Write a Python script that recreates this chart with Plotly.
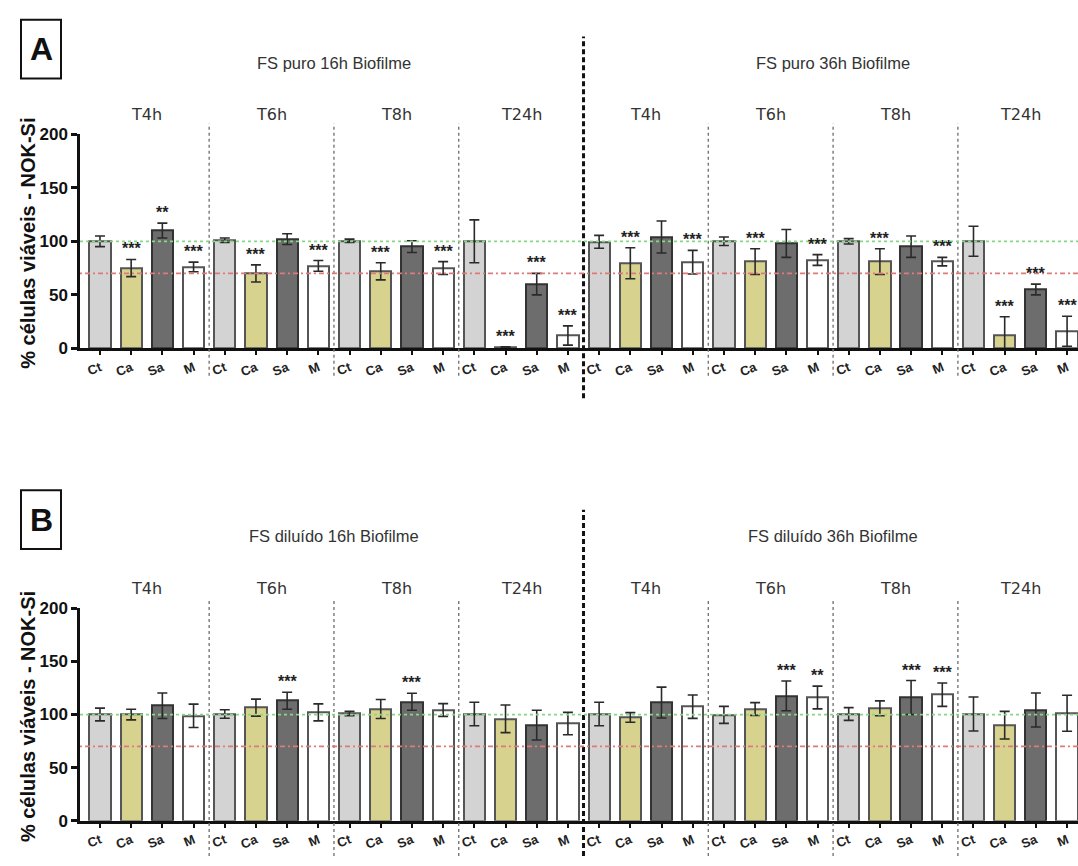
import plotly.graph_objects as go

# ---------------- data ----------------
cats = ["Ct", "Ca", "Sa", "M"]
groups = ["T4h", "T6h", "T8h", "T24h", "T4h", "T6h", "T8h", "T24h"]
titles_A = ["FS puro 16h Biofilme", "FS puro 36h Biofilme"]
titles_B = ["FS diluído 16h Biofilme", "FS diluído 36h Biofilme"]
y_title = "% células viáveis - NOK-Si"
y_ticks = [0, 50, 100, 150, 200]

# Panel A (FS puro) — order: 16h T4h,T6h,T8h,T24h, 36h T4h,T6h,T8h,T24h
A_Ct = [100, 101, 100.5, 100, 99.5, 100, 100, 100]
A_Ct_err = [5, 2, 1.5, 20, 6, 4, 2.5, 14]
A_Ca = [75, 70, 72, 1, 79.5, 81, 81, 12.5]
A_Ca_err = [8, 8, 8, 0.5, 14.5, 12, 12, 17]
A_Sa = [110, 102, 95, 60, 104, 98, 95, 55]
A_Sa_err = [7, 5, 5.5, 10, 15, 13, 10, 5]
A_M = [76, 77, 75, 12, 80.5, 82.5, 81, 16]
A_M_err = [4.5, 5, 6, 9, 11, 5, 4, 14]
A_Ct_sig = [""] * 8
A_Ca_sig = ["***"] * 8
A_Sa_sig = ["**", "", "", "***", "", "", "", "***"]
A_M_sig = ["***"] * 8

# Panel B (FS diluído)
B_Ct = [100, 100.5, 101, 100.5, 100.5, 99.7, 100.5, 100.5]
B_Ct_err = [6, 4, 2, 11, 11, 8, 6, 16]
B_Ca = [100, 106.5, 105.2, 96, 97.3, 105.2, 105.8, 90]
B_Ca_err = [5, 8, 9, 13, 4.5, 6, 7, 13]
B_Sa = [108.3, 113, 112, 90, 111.3, 117.5, 116, 104.3]
B_Sa_err = [12, 8, 8, 14, 14.5, 14, 16, 16]
B_M = [98.8, 102, 104.3, 91.5, 107.4, 116, 118.7, 101.2]
B_M_err = [11, 8, 6, 10.5, 11, 10.7, 11, 17]
B_Ct_sig = [""] * 8
B_Ca_sig = [""] * 8
B_Sa_sig = ["", "***", "***", "", "", "***", "***", ""]
B_M_sig = ["", "", "", "", "", "**", "***", ""]

ref_green = 100
ref_red = 70

# ---------------- style ----------------
fills = {"Ct": "#d3d3d3", "Ca": "#d7d38f", "Sa": "#6d6d6d", "M": "#ffffff"}
edges = {"Ct": "#555555", "Ca": "#555555", "Sa": "#333333", "M": "#555555"}
W, H = 1078, 866

def py(px):
    return 1 - px / H

fig = go.Figure()

panels = [
    dict(vals=[A_Ct, A_Ca, A_Sa, A_M], errs=[A_Ct_err, A_Ca_err, A_Sa_err, A_M_err],
         sigs=[A_Ct_sig, A_Ca_sig, A_Sa_sig, A_M_sig], titles=titles_A,
         xa="x", ya="y", dom=[py(347), py(128)], tY=py(108), sY=py(55),
         sub=[py(375), py(117)], big=[py(398), py(28)], letter="A",
         box=[11, 71], ytitle=240),
    dict(vals=[B_Ct, B_Ca, B_Sa, B_M], errs=[B_Ct_err, B_Ca_err, B_Sa_err, B_M_err],
         sigs=[B_Ct_sig, B_Ca_sig, B_Sa_sig, B_M_sig], titles=titles_B,
         xa="x2", ya="y2", dom=[py(830), py(612.7)], tY=py(593), sY=py(539),
         sub=[py(866), py(603)], big=[py(866), py(512)], letter="B",
         box=[492, 552], ytitle=724),
]

ngroups = len(groups)
ncat = len(cats)
xvals_all = list(range(ngroups * ncat))
ticktext_all = cats * ngroups

annotations = []
shapes = []
for p in panels:
    for k, c in enumerate(cats):
        xs = [g * ncat + k for g in range(ngroups)]
        fig.add_trace(go.Bar(
            x=xs, y=p["vals"][k], xaxis=p["xa"], yaxis=p["ya"],
            width=0.68, name=c, showlegend=False,
            marker=dict(color=fills[c], line=dict(color=edges[c], width=2)),
            error_y=dict(type="data", array=p["errs"][k], visible=True,
                         color="#2a2a2a", thickness=1.6, width=5),
        ))
        for g in range(ngroups):
            s = p["sigs"][k][g]
            if s:
                annotations.append(dict(
                    x=g * ncat + k, y=p["vals"][k][g] + p["errs"][k][g],
                    xref=p["xa"], yref=p["ya"], text=s, showarrow=False,
                    xanchor="center", yanchor="bottom", yshift=0,
                    font=dict(family="Liberation Sans", size=16, color="#222", weight="bold"),
                ))
    # group headers
    for g, gname in enumerate(groups):
        annotations.append(dict(
            x=g * ncat + 1.5, y=p["tY"], xref=p["xa"], yref="paper", text=gname,
            xanchor="center", yanchor="middle",
            showarrow=False, font=dict(family="DejaVu Sans", size=16, color="#333")))
    for h, t in enumerate(p["titles"]):
        annotations.append(dict(
            x=h * 16 + 7.5, y=p["sY"], xref=p["xa"], yref="paper", text=t,
            xanchor="center", yanchor="middle",
            showarrow=False, font=dict(family="Liberation Sans", size=16.5, color="#333")))
    # sub-group separators
    for sx in [3.5, 7.5, 11.5, 19.5, 23.5, 27.5]:
        shapes.append(dict(type="line", xref=p["xa"], yref="paper", x0=sx, x1=sx,
                           y0=p["sub"][0], y1=p["sub"][1],
                           line=dict(color="#777", width=1.4, dash="dot")))
    shapes.append(dict(type="line", xref=p["xa"], yref="paper", x0=15.5, x1=15.5,
                       y0=p["big"][0], y1=p["big"][1],
                       line=dict(color="#111", width=3, dash="5px,3px")))
    # reference lines
    shapes.append(dict(type="line", xref=p["xa"] + " domain", yref=p["ya"], x0=0, x1=1,
                       y0=ref_green, y1=ref_green, layer="above",
                       line=dict(color="#86d886", width=1.8, dash="dot")))
    shapes.append(dict(type="line", xref=p["xa"] + " domain", yref=p["ya"], x0=0, x1=1,
                       y0=ref_red, y1=ref_red, layer="above",
                       line=dict(color="#df7a7a", width=1.8, dash="2px,3px,5px,3px")))
    # panel letter box
    shapes.append(dict(type="rect", xref="paper", yref="paper",
                       x0=21 / W, x1=61 / W, y0=py(p["box"][1]), y1=py(p["box"][0]),
                       line=dict(color="#111", width=2)))
    annotations.append(dict(x=41 / W, y=py((p["box"][0] + p["box"][1]) / 2), xref="paper",
                            yref="paper", text=p["letter"], showarrow=False,
                            xanchor="center", yanchor="middle",
                            font=dict(family="Liberation Sans", size=32, color="#111", weight="bold")))
    annotations.append(dict(x=28 / W, y=py(p["ytitle"]), xref="paper", yref="paper",
                            text=y_title, textangle=-90, showarrow=False,
                            xanchor="center", yanchor="middle",
                            font=dict(family="Liberation Sans", size=20, color="#111", weight="bold")))

xax = dict(range=[-0.64, 31.35], domain=[80 / W, 1], showline=True, linecolor="#111",
           linewidth=2.5, ticks="outside", ticklen=4, tickwidth=2, tickcolor="#111",
           tickvals=xvals_all, ticktext=ticktext_all, tickangle=-22,
           tickfont=dict(family="Liberation Sans", size=13, color="#222", weight="bold"),
           showgrid=False, zeroline=False, fixedrange=True)
yax = dict(range=[0, 200], showline=True, linecolor="#111", linewidth=2.5,
           ticks="outside", ticklen=6, tickwidth=2.5, tickcolor="#111",
           tickvals=y_ticks, tickfont=dict(family="Liberation Sans", size=17, color="#111", weight="bold"),
           showgrid=False, zeroline=False)

fig.update_layout(
    width=W, height=H, margin=dict(l=0, r=0, t=0, b=0),
    plot_bgcolor="white", paper_bgcolor="white", bargap=0,
    xaxis=dict(xax, anchor="y"),
    yaxis=dict(yax, domain=panels[0]["dom"], anchor="x"),
    xaxis2=dict(xax, anchor="y2"),
    yaxis2=dict(yax, domain=panels[1]["dom"], anchor="x2"),
    annotations=annotations, shapes=shapes,
)

fig.write_html("out.html")
